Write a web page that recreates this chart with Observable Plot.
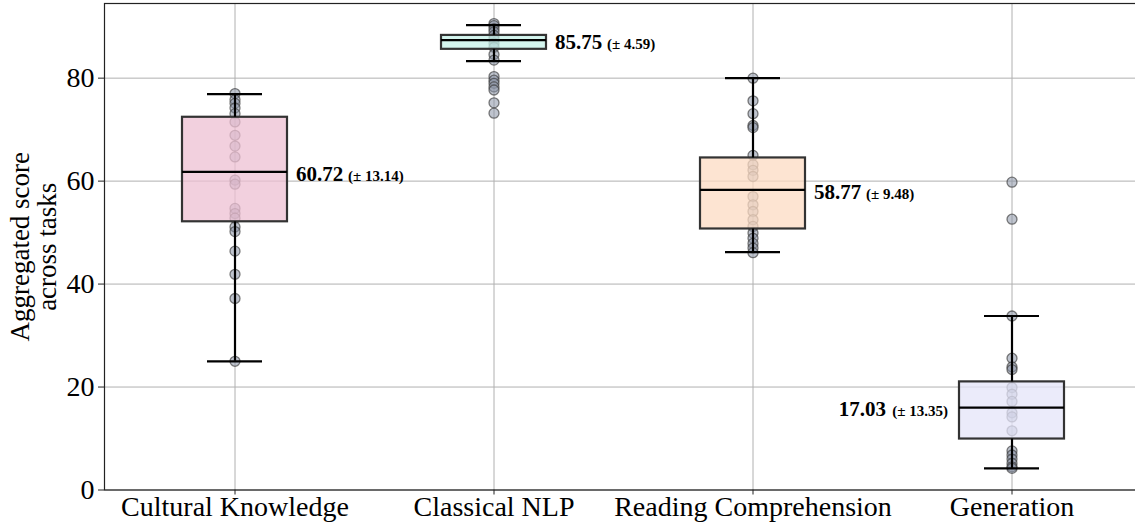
<!DOCTYPE html>
<html>
<head>
<meta charset="utf-8">
<script src="https://cdn.jsdelivr.net/npm/d3@7"></script>
<script src="https://cdn.jsdelivr.net/npm/@observablehq/plot@0.6"></script>
<style>
  html, body { margin: 0; padding: 0; background: #fff; }
  #chart { width: 1135px; height: 524px; overflow: hidden; }
</style>
</head>
<body>
<div id="chart"></div>
<script>
// ---- data ----
const categories = ["Cultural Knowledge", "Classical NLP", "Reading Comprehension", "Generation"];
const q1 = [52.1, 85.6, 50.7, 9.9];
const medians = [61.8, 87.4, 58.3, 16.0];
const q3 = [72.4, 88.3, 64.5, 21.0];
const whiskerLow = [25.0, 83.3, 46.2, 4.2];
const whiskerHigh = [76.9, 90.3, 80.0, 33.8];
const means = ["60.72", "85.75", "58.77", "17.03"];
const stds = ["13.14", "4.59", "9.48", "13.35"];
const labelSide = [1, 1, 1, -1];
const boxColors = ["#eec0d3", "#c6f2e8", "#fcdbc3", "#e4e4f8"];

const culturalScores = [77.0, 75.8, 75.1, 74.2, 73.1, 71.5, 68.9, 66.8, 64.7, 60.2, 59.4, 54.7, 53.7, 52.8, 51.1, 50.2, 46.4, 41.9, 37.2, 25.0];
const classicalScores = [90.6, 90.2, 89.6, 89.0, 88.3, 87.6, 86.8, 86.0, 84.6, 83.5, 80.3, 79.6, 79.0, 78.3, 77.7, 75.2, 73.2];
const readingScores = [80.0, 75.6, 73.1, 70.8, 70.4, 65.0, 63.2, 62.1, 60.9, 57.0, 55.4, 54.1, 52.5, 51.2, 49.9, 48.9, 47.9, 47.0, 46.1];
const generationScores = [59.8, 52.6, 33.8, 25.6, 23.9, 23.4, 19.9, 18.6, 17.2, 15.0, 14.2, 11.5, 7.6, 6.8, 6.0, 5.2, 4.5, 4.2];
const yTicks = [0, 20, 40, 60, 80];

// ---- tables built from the arrays ----
const boxes = categories.map((c, i) => ({
  category: c, q1: q1[i], median: medians[i], q3: q3[i],
  lo: whiskerLow[i], hi: whiskerHigh[i],
  mean: means[i], std: "(± " + stds[i] + ")", side: labelSide[i], color: boxColors[i]
}));
const scoreLists = [culturalScores, classicalScores, readingScores, generationScores];
const points = scoreLists.flatMap((arr, i) => arr.map(v => ({category: categories[i], score: v})));

const boxInset = 77;
const capInset = 102;

const chart = Plot.plot({
  width: 1135,
  height: 524,
  marginLeft: 104,
  marginTop: 3,
  marginBottom: 34.5,
  marginRight: -7,
  style: {fontFamily: "'Liberation Serif', 'Times New Roman', serif", background: "#fff", color: "#000"},
  x: {type: "band", domain: categories, padding: 0, label: null},
  y: {domain: [0, 94.5], label: null},
  marks: [
    Plot.gridY(yTicks, {stroke: "#b0b0b0", strokeOpacity: 1, strokeWidth: 1}),
    Plot.ruleX(categories, {x: d => d, stroke: "#b0b0b0", strokeWidth: 1}),
    Plot.dot(points, {x: "category", y: "score", r: 5, fill: "#8a94a6", fillOpacity: 0.55, stroke: "#3a3a3a", strokeOpacity: 0.65, strokeWidth: 1.3}),
    Plot.barY(boxes, {x: "category", y1: "q1", y2: "q3", fill: "color", fillOpacity: 0.75, stroke: "#333", strokeWidth: 2.2, insetLeft: boxInset, insetRight: boxInset}),
    Plot.ruleX(boxes, {x: "category", y1: "q3", y2: "hi", stroke: "#000", strokeWidth: 2.2}),
    Plot.ruleX(boxes, {x: "category", y1: "lo", y2: "q1", stroke: "#000", strokeWidth: 2.2}),
    Plot.tickY(boxes, {x: "category", y: "hi", stroke: "#000", strokeWidth: 2.2, insetLeft: capInset, insetRight: capInset}),
    Plot.tickY(boxes, {x: "category", y: "lo", stroke: "#000", strokeWidth: 2.2, insetLeft: capInset, insetRight: capInset}),
    Plot.tickY(boxes, {x: "category", y: "median", stroke: "#000", strokeWidth: 2.2, insetLeft: boxInset, insetRight: boxInset}),
    // mean labels, right side
    Plot.text(boxes, {filter: d => d.side > 0, x: "category", y: "median", text: "mean", textAnchor: "start", dx: 61, dy: 2, fontSize: 21, fontWeight: "bold", fill: "#000"}),
    Plot.text(boxes, {filter: d => d.side > 0, x: "category", y: "median", text: "std", textAnchor: "start", dx: 113, dy: 4, fontSize: 15, fontWeight: "bold", fill: "#000"}),
    // mean labels, left side
    Plot.text(boxes, {filter: d => d.side < 0, x: "category", y: "median", text: "mean", textAnchor: "end", dx: -126, dy: 2, fontSize: 21, fontWeight: "bold", fill: "#000"}),
    Plot.text(boxes, {filter: d => d.side < 0, x: "category", y: "median", text: "std", textAnchor: "end", dx: -64, dy: 4, fontSize: 15, fontWeight: "bold", fill: "#000"}),
    Plot.axisY({ticks: yTicks, tickSize: 6, tickPadding: 4, fontSize: 28, label: null, stroke: "#222"}),
    Plot.axisX({tickSize: 5, tickPadding: 1, fontSize: 28, label: null, stroke: "#222"}),
    Plot.text(["Aggregated score\nacross tasks"], {frameAnchor: "left", textAnchor: "middle", dx: -71, rotate: -90, fontSize: 27, lineHeight: 1.02, fill: "#000"}),
    Plot.frame({stroke: "#222", strokeWidth: 1.2})
  ]
});
document.getElementById("chart").appendChild(chart);
</script>
</body>
</html>
